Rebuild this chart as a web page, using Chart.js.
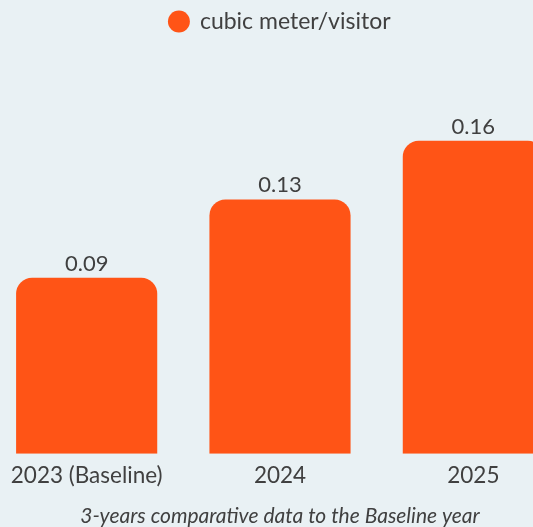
<!DOCTYPE html>
<html lang="en">
<head>
  <meta charset="UTF-8">
  <title>Water use per visitor</title>
  <script src="https://cdn.jsdelivr.net/npm/chart.js"></script>
  <style>
    html, body { margin: 0; padding: 0; background: #e9f1f4; overflow: hidden; }
    #wrap { position: absolute; left: -10px; top: 0; width: 580px; height: 529px; }
  </style>
</head>
<body>
  <div id="wrap"><canvas id="usageChart" width="580" height="529"></canvas></div>

  <script>
    const years = ['2023 (Baseline)', '2024', '2025'];
    const perVisitor = [0.09, 0.13, 0.16];
    const seriesName = 'cubic meter/visitor';
    const chartTitle = '3-years comparative data to the Baseline year';

    const barColor = '#ff5416';
    const textColor = '#404040';

    // value labels above each bar
    const valueLabels = {
      id: 'valueLabels',
      afterDatasetsDraw(chart) {
        const { ctx } = chart;
        const meta = chart.getDatasetMeta(0);
        ctx.save();
        ctx.font = '22px Lato';
        ctx.fillStyle = textColor;
        ctx.textAlign = 'center';
        ctx.textBaseline = 'alphabetic';
        meta.data.forEach((bar, i) => {
          ctx.fillText(perVisitor[i].toFixed(2), bar.x, bar.y - 7);
        });
        ctx.restore();
      }
    };

    const ctx = document.getElementById('usageChart').getContext('2d');
    new Chart(ctx, {
      type: 'bar',
      data: {
        labels: years,
        datasets: [{
          label: seriesName,
          data: perVisitor,
          backgroundColor: barColor,
          borderRadius: { topLeft: 16, topRight: 16 },
          borderSkipped: 'bottom',
          categoryPercentage: 0.73,
          barPercentage: 1
        }]
      },
      options: {
        responsive: false,
        animation: false,
        layout: { padding: 0 },
        plugins: {
          legend: {
            position: 'top',
            labels: {
              usePointStyle: true,
              pointStyle: 'circle',
              boxWidth: 19,
              boxHeight: 15.5,
              color: textColor,
              font: { family: 'Lato', size: 23 }
            }
          },
          title: {
            display: true,
            position: 'bottom',
            text: chartTitle,
            color: textColor,
            font: { family: 'Lato', size: 21, style: 'italic', weight: 'normal' },
            padding: { top: 15, bottom: 0 }
          },
          tooltip: { enabled: false }
        },
        scales: {
          x: {
            grid: { display: false },
            border: { display: false },
            ticks: { color: textColor, font: { family: 'Lato', size: 22.5 }, padding: 0 }
          },
          y: {
            display: false,
            min: 0,
            max: 0.21
          }
        }
      },
      plugins: [valueLabels]
    });
  </script>
</body>
</html>
